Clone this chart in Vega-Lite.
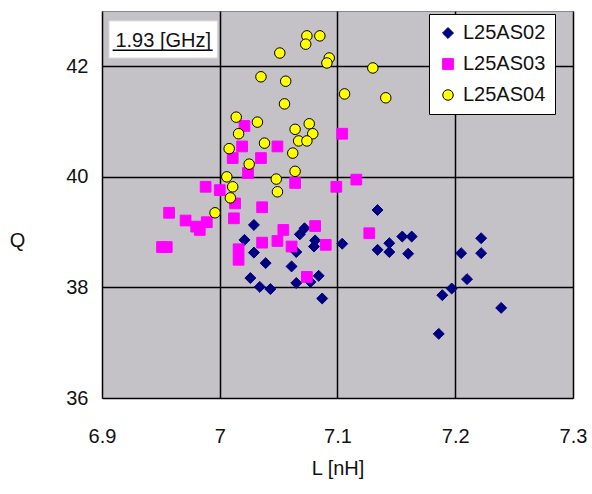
{
  "$schema": "https://vega.github.io/schema/vega-lite/v6.json",
  "width": 471,
  "height": 387,
  "autosize": "none",
  "padding": {"left": 102, "top": 11, "right": 19, "bottom": 96},
  "background": "white",
  "config": {
    "font": "Liberation Sans",
    "view": {"fill": "#c4c2c7", "stroke": "#8a8a8a", "strokeWidth": 1},
    "axis": {
      "grid": true, "gridColor": "#000000", "gridWidth": 1.5, "gridOpacity": 1,
      "domain": false, "ticks": false,
      "labelFont": "Liberation Sans", "labelFontSize": 20, "labelColor": "#111111",
      "titleFont": "Liberation Sans", "titleFontSize": 20, "titleFontWeight": "normal", "titleColor": "#111111"
    }
  },
  "datasets": {
    "pts": [
      {"series": "L25AS02", "L": 7.029, "Q": 39.13},
      {"series": "L25AS02", "L": 7.021, "Q": 38.86},
      {"series": "L25AS02", "L": 7.029, "Q": 38.63},
      {"series": "L25AS02", "L": 7.039, "Q": 38.44},
      {"series": "L25AS02", "L": 7.026, "Q": 38.17},
      {"series": "L25AS02", "L": 7.034, "Q": 38.01},
      {"series": "L25AS02", "L": 7.043, "Q": 37.97},
      {"series": "L25AS02", "L": 7.061, "Q": 38.38},
      {"series": "L25AS02", "L": 7.065, "Q": 38.08},
      {"series": "L25AS02", "L": 7.072, "Q": 39.07},
      {"series": "L25AS02", "L": 7.068, "Q": 38.96},
      {"series": "L25AS02", "L": 7.081, "Q": 38.85},
      {"series": "L25AS02", "L": 7.080, "Q": 38.74},
      {"series": "L25AS02", "L": 7.065, "Q": 38.64},
      {"series": "L25AS02", "L": 7.084, "Q": 38.21},
      {"series": "L25AS02", "L": 7.087, "Q": 37.80},
      {"series": "L25AS02", "L": 7.077, "Q": 38.10},
      {"series": "L25AS02", "L": 7.104, "Q": 38.79},
      {"series": "L25AS02", "L": 7.134, "Q": 39.40},
      {"series": "L25AS02", "L": 7.134, "Q": 38.68},
      {"series": "L25AS02", "L": 7.144, "Q": 38.80},
      {"series": "L25AS02", "L": 7.144, "Q": 38.64},
      {"series": "L25AS02", "L": 7.155, "Q": 38.92},
      {"series": "L25AS02", "L": 7.163, "Q": 38.92},
      {"series": "L25AS02", "L": 7.160, "Q": 38.61},
      {"series": "L25AS02", "L": 7.205, "Q": 38.62},
      {"series": "L25AS02", "L": 7.222, "Q": 38.89},
      {"series": "L25AS02", "L": 7.222, "Q": 38.62},
      {"series": "L25AS02", "L": 7.210, "Q": 38.15},
      {"series": "L25AS02", "L": 7.197, "Q": 37.98},
      {"series": "L25AS02", "L": 7.189, "Q": 37.86},
      {"series": "L25AS02", "L": 7.239, "Q": 37.63},
      {"series": "L25AS02", "L": 7.186, "Q": 37.16},
      {"series": "L25AS03", "L": 7.021, "Q": 40.92},
      {"series": "L25AS03", "L": 7.104, "Q": 40.78},
      {"series": "L25AS03", "L": 7.019, "Q": 40.55},
      {"series": "L25AS03", "L": 7.049, "Q": 40.55},
      {"series": "L25AS03", "L": 7.011, "Q": 40.34},
      {"series": "L25AS03", "L": 7.035, "Q": 40.34},
      {"series": "L25AS03", "L": 7.024, "Q": 40.07},
      {"series": "L25AS03", "L": 7.064, "Q": 39.89},
      {"series": "L25AS03", "L": 7.099, "Q": 39.82},
      {"series": "L25AS03", "L": 6.988, "Q": 39.82},
      {"series": "L25AS03", "L": 7.000, "Q": 39.76},
      {"series": "L25AS03", "L": 7.116, "Q": 39.95},
      {"series": "L25AS03", "L": 7.013, "Q": 39.52},
      {"series": "L25AS03", "L": 7.036, "Q": 39.45},
      {"series": "L25AS03", "L": 6.957, "Q": 39.35},
      {"series": "L25AS03", "L": 6.971, "Q": 39.21},
      {"series": "L25AS03", "L": 6.989, "Q": 39.18},
      {"series": "L25AS03", "L": 6.980, "Q": 39.10},
      {"series": "L25AS03", "L": 6.983, "Q": 39.04},
      {"series": "L25AS03", "L": 7.012, "Q": 39.25},
      {"series": "L25AS03", "L": 6.951, "Q": 38.73},
      {"series": "L25AS03", "L": 6.955, "Q": 38.73},
      {"series": "L25AS03", "L": 7.016, "Q": 38.69},
      {"series": "L25AS03", "L": 7.016, "Q": 38.50},
      {"series": "L25AS03", "L": 7.054, "Q": 39.04},
      {"series": "L25AS03", "L": 7.036, "Q": 38.81},
      {"series": "L25AS03", "L": 7.049, "Q": 38.84},
      {"series": "L25AS03", "L": 7.061, "Q": 38.74},
      {"series": "L25AS03", "L": 7.081, "Q": 39.11},
      {"series": "L25AS03", "L": 7.090, "Q": 38.77},
      {"series": "L25AS03", "L": 7.074, "Q": 38.19},
      {"series": "L25AS03", "L": 7.127, "Q": 38.98},
      {"series": "L25AS04", "L": 7.074, "Q": 42.55},
      {"series": "L25AS04", "L": 7.085, "Q": 42.55},
      {"series": "L25AS04", "L": 7.073, "Q": 42.40},
      {"series": "L25AS04", "L": 7.051, "Q": 42.24},
      {"series": "L25AS04", "L": 7.093, "Q": 42.15},
      {"series": "L25AS04", "L": 7.091, "Q": 42.06},
      {"series": "L25AS04", "L": 7.130, "Q": 41.97},
      {"series": "L25AS04", "L": 7.035, "Q": 41.81},
      {"series": "L25AS04", "L": 7.056, "Q": 41.73},
      {"series": "L25AS04", "L": 7.106, "Q": 41.50},
      {"series": "L25AS04", "L": 7.141, "Q": 41.43},
      {"series": "L25AS04", "L": 7.055, "Q": 41.32},
      {"series": "L25AS04", "L": 7.014, "Q": 41.08},
      {"series": "L25AS04", "L": 7.032, "Q": 40.99},
      {"series": "L25AS04", "L": 7.064, "Q": 40.86},
      {"series": "L25AS04", "L": 7.076, "Q": 40.96},
      {"series": "L25AS04", "L": 7.079, "Q": 40.78},
      {"series": "L25AS04", "L": 7.016, "Q": 40.78},
      {"series": "L25AS04", "L": 7.067, "Q": 40.65},
      {"series": "L25AS04", "L": 7.074, "Q": 40.65},
      {"series": "L25AS04", "L": 7.038, "Q": 40.61},
      {"series": "L25AS04", "L": 7.008, "Q": 40.51},
      {"series": "L25AS04", "L": 7.062, "Q": 40.43},
      {"series": "L25AS04", "L": 7.025, "Q": 40.23},
      {"series": "L25AS04", "L": 7.064, "Q": 40.10},
      {"series": "L25AS04", "L": 7.006, "Q": 40.00},
      {"series": "L25AS04", "L": 7.048, "Q": 39.96},
      {"series": "L25AS04", "L": 7.011, "Q": 39.82},
      {"series": "L25AS04", "L": 7.049, "Q": 39.73},
      {"series": "L25AS04", "L": 7.009, "Q": 39.62},
      {"series": "L25AS04", "L": 6.996, "Q": 39.35}
    ],
    "note": [
      {"label": "1.93 [GHz]", "bx1": 6.906, "bx2": 6.998, "by1": 42.15, "by2": 42.82, "tx": 6.952, "ty": 42.35, "ux1": 6.909, "ux2": 6.994, "uy": 42.29}
    ]
  },
  "layer": [
    {
      "data": {"name": "note"},
      "mark": {"type": "rect", "fill": "white", "stroke": "#dddddd", "strokeWidth": 1},
      "encoding": {
        "x": {"field": "bx1", "type": "quantitative", "scale": {"domain": [6.9, 7.3], "nice": false, "zero": false}},
        "x2": {"field": "bx2"},
        "y": {"field": "by1", "type": "quantitative", "scale": {"domain": [36, 43], "nice": false, "zero": false}},
        "y2": {"field": "by2"}
      }
    },
    {
      "data": {"name": "note"},
      "mark": {"type": "rule", "color": "#000000", "strokeWidth": 1.5},
      "encoding": {
        "x": {"field": "ux1", "type": "quantitative"},
        "x2": {"field": "ux2"},
        "y": {"field": "uy", "type": "quantitative"}
      }
    },
    {
      "data": {"name": "note"},
      "mark": {"type": "text", "font": "Liberation Sans", "fontSize": 20, "align": "center", "baseline": "alphabetic", "color": "#111111"},
      "encoding": {
        "x": {"field": "tx", "type": "quantitative"},
        "y": {"field": "ty", "type": "quantitative"},
        "text": {"field": "label"}
      }
    },
    {
      "data": {"name": "pts"},
      "mark": {"type": "point", "filled": true, "opacity": 1, "strokeWidth": 1},
      "encoding": {
        "x": {
          "field": "L", "type": "quantitative",
          "scale": {"domain": [6.9, 7.3], "nice": false, "zero": false},
          "axis": {"title": "L [nH]", "values": [6.9, 7.0, 7.1, 7.2, 7.3], "format": "~g", "labelPadding": 28, "titlePadding": 12, "labelFlush": false}
        },
        "y": {
          "field": "Q", "type": "quantitative",
          "scale": {"domain": [36, 43], "nice": false, "zero": false},
          "axis": {"title": "Q", "values": [36, 38, 40, 42], "format": "d", "labelPadding": 14, "titleAngle": 0, "titleAlign": "center", "titleBaseline": "middle", "titleX": -85, "titleY": 229}
        },
        "shape": {
          "field": "series", "type": "nominal",
          "scale": {"domain": ["L25AS02", "L25AS03", "L25AS04"], "range": ["diamond", "square", "circle"]},
          "legend": {
            "title": null, "orient": "none", "legendX": 327, "legendY": 3,
            "fillColor": "white", "strokeColor": "#000000", "padding": 9, "rowPadding": 11,
            "labelFont": "Liberation Sans", "labelFontSize": 20, "labelColor": "#111111",
            "labelOffset": 5, "symbolStrokeWidth": 1
          }
        },
        "fill": {
          "field": "series", "type": "nominal",
          "scale": {"domain": ["L25AS02", "L25AS03", "L25AS04"], "range": ["#000080", "#ff00ff", "#ffff00"]}
        },
        "stroke": {
          "field": "series", "type": "nominal",
          "scale": {"domain": ["L25AS02", "L25AS03", "L25AS04"], "range": ["#000080", "#ff00ff", "#000000"]}
        },
        "size": {
          "field": "series", "type": "nominal",
          "scale": {"domain": ["L25AS02", "L25AS03", "L25AS04"], "range": [120, 110, 64]}
        }
      }
    }
  ]
}
